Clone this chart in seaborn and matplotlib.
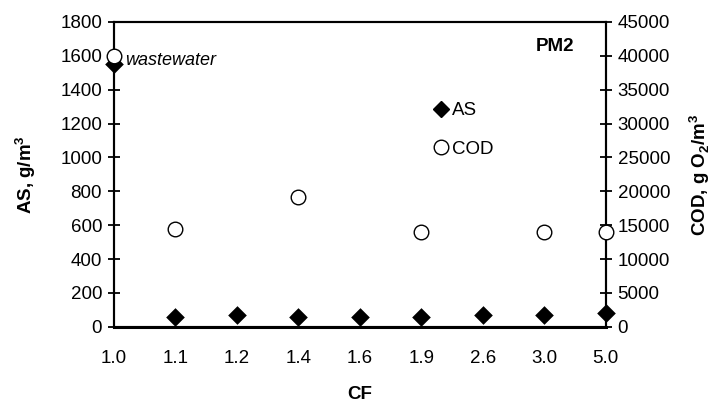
import numpy as np
import pandas as pd
import matplotlib
matplotlib.use("Agg")
import matplotlib.pyplot as plt
from matplotlib.lines import Line2D
import seaborn as sns

sns.set_style("white")
plt.rcParams['font.family'] = ['Liberation Sans', 'DejaVu Sans']
plt.rcParams['mathtext.fontset'] = 'custom'
plt.rcParams['mathtext.rm'] = 'Liberation Sans'
plt.rcParams['mathtext.bf'] = 'Liberation Sans:bold'
for k in ['text.color', 'axes.labelcolor', 'xtick.color', 'ytick.color', 'axes.edgecolor']:
    plt.rcParams[k] = 'black'

# data
cf = ["1.0", "1.1", "1.2", "1.4", "1.6", "1.9", "2.6", "3.0", "5.0"]
as_vals = [1550, 60, 70, 60, 58, 60, 68, 68, 84]
cod_vals = [40000, 14500, np.nan, 19200, np.nan, 14000, np.nan, 14000, 14000]

df = pd.DataFrame({"CF": cf, "AS": as_vals, "COD": cod_vals})

fig = plt.figure(figsize=(7.16, 4.07), dpi=100)
ax = fig.add_axes([0.159, 0.197, 0.687, 0.749])
ax2 = ax.twinx()

sns.stripplot(data=df, x="CF", y="AS", order=cf, jitter=False, marker="D",
              size=9.5, color="black", linewidth=0, ax=ax, zorder=4, clip_on=False)
sns.stripplot(data=df.dropna(), x="CF", y="COD", order=cf, jitter=False, marker="o",
              size=10.5, color="white", edgecolor="black", linewidth=1, ax=ax2,
              zorder=5, clip_on=False)

ax.set_xlim(0, len(cf) - 1)
ax.set_ylim(0, 1800)
ax.set_yticks(range(0, 1801, 200))
ax2.set_ylim(0, 45000)
ax2.set_yticks(range(0, 45001, 5000))
ax.set_xticks(range(len(cf)))
ax.set_xticklabels(cf)

fs = 13.5
for a in (ax, ax2):
    a.tick_params(direction="inout", length=9, width=1.3, labelsize=fs, colors="black")
    for s in a.spines.values():
        s.set_linewidth(1.5)
        s.set_color("black")
ax.spines["bottom"].set_linewidth(2.2)
ax.tick_params(axis="x", pad=12)
ax.tick_params(axis="y", pad=4)
ax2.tick_params(axis="y", pad=4)

ax.set_xlabel("CF", fontsize=fs, fontweight="bold", labelpad=14)
ax.set_ylabel(r"AS, g/m$^\mathbf{3}$", fontsize=fs, fontweight="bold", labelpad=16)
ax2.set_ylabel(r"COD, g O$_\mathbf{2}$/m$^\mathbf{3}$", fontsize=fs, fontweight="bold", labelpad=12)

ax.text(0.022, 0.875, "wastewater", transform=ax.transAxes, fontsize=13,
        style="italic", va="center", ha="left")
ax.text(0.896, 0.918, "PM2", transform=ax.transAxes, fontsize=fs,
        fontweight="bold", va="center", ha="center")

handles = [Line2D([], [], marker="D", color="black", linestyle="none", markersize=8.5),
           Line2D([], [], marker="o", markerfacecolor="white", markeredgecolor="black",
                  linestyle="none", markersize=10.5)]
ax.legend(handles, ["AS", "COD"], loc="upper left", bbox_to_anchor=(0.635, 0.762),
          frameon=False, handlelength=0.8, handletextpad=0.15, labelspacing=1.15,
          fontsize=fs, borderaxespad=0)

fig.savefig("out.png", dpi=100)
